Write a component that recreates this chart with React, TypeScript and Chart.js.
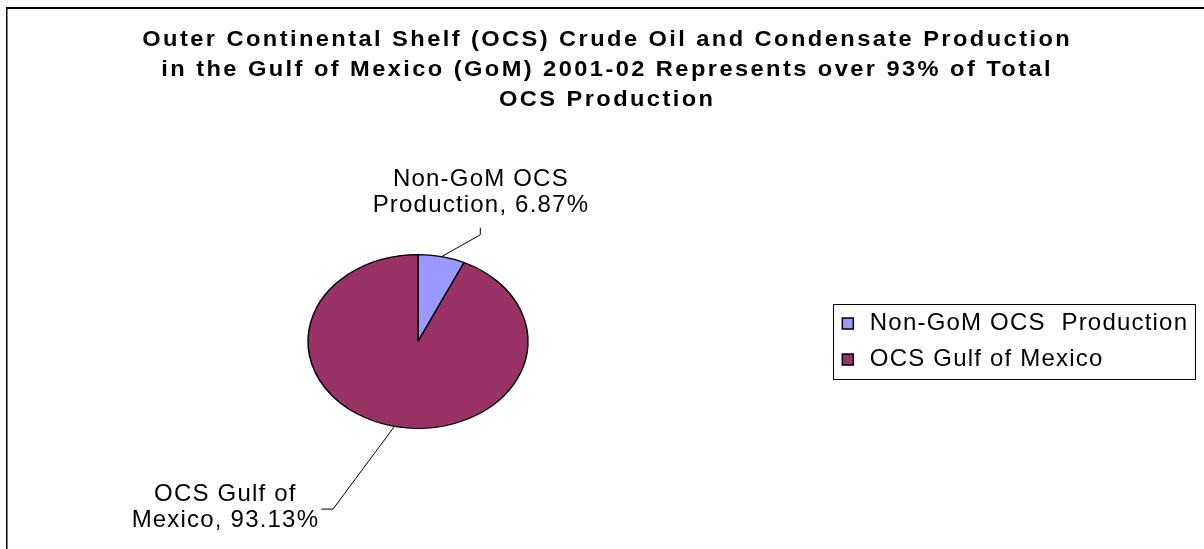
import React, { useEffect, useRef } from 'react';
import { Chart, registerables } from 'chart.js';

Chart.register(...registerables);

// ---- data ----
const titleLines = [
  'Outer Continental Shelf (OCS) Crude Oil and Condensate Production',
  'in the Gulf of Mexico (GoM) 2001-02 Represents over 93% of Total',
  'OCS Production',
];
const categories = ['Non-GoM OCS  Production', 'OCS Gulf of Mexico'];
const categoryLines = [
  ['Non-GoM OCS', 'Production'],
  ['OCS Gulf of', 'Mexico'],
];
const shares = [6.87, 93.13];
const sliceColors = ['#9999FF', '#993366'];

// ---- styling / layout ----
const FONT = '"Liberation Sans", Arial, Helvetica, sans-serif';
const Y_SCALE = 0.79; // pie is drawn as an ellipse like the reference
const TITLE_SX = 1.1; // title glyphs are drawn slightly wide, like the reference
const W = 1198;
const H = 543;

// label placement relative to pie centre (elbow, tick end, text centre x, first baseline)
const labelLayout = [
  { ex: 62.3, ey: -106.7, tx: 62.3, ty: -113.7, cx: 62.3, by: -155.2 },
  { ex: -85, ey: 167.6, tx: -96.7, ty: 167.6, cx: -193.2, by: 159.8 },
];

const spacingPlugin = {
  id: 'spacing',
  afterInit(chart: any) {
    chart.ctx.letterSpacing = '1.2px';
  },
};

const ellipsePlugin = {
  id: 'ellipse',
  beforeDatasetsDraw(chart: any) {
    const arc = chart.getDatasetMeta(0).data[0];
    const ctx = chart.ctx;
    ctx.save();
    ctx.translate(arc.x, arc.y);
    ctx.scale(1, Y_SCALE);
    ctx.translate(-arc.x, -arc.y);
  },
  afterDatasetsDraw(chart: any) {
    chart.ctx.restore();
  },
};

const decorPlugin = {
  id: 'decor',
  afterDraw(chart: any) {
    const ctx = chart.ctx as any;
    // outer border (left + top)
    ctx.save();
    ctx.strokeStyle = '#000';
    ctx.lineWidth = 2;
    ctx.beginPath();
    ctx.moveTo(0, 2);
    ctx.lineTo(chart.width, 2);
    ctx.stroke();
    ctx.lineWidth = 1.5;
    ctx.beginPath();
    ctx.moveTo(0.75, 1);
    ctx.lineTo(0.75, chart.height);
    ctx.stroke();
    ctx.restore();

    // title
    ctx.save();
    ctx.fillStyle = '#000';
    ctx.font = `bold 21.5px ${FONT}`;
    ctx.letterSpacing = '2.2px';
    ctx.textAlign = 'center';
    ctx.textBaseline = 'alphabetic';
    titleLines.forEach((t, i) => {
      ctx.save();
      ctx.translate(chart.width / 2 + 2.2, 39.5 + i * 30.4);
      ctx.scale(TITLE_SX, 1);
      ctx.fillText(t, 0, 0);
      ctx.restore();
    });
    ctx.restore();

    // data labels with leader lines
    const meta = chart.getDatasetMeta(0);
    ctx.save();
    ctx.font = `24px ${FONT}`;
    ctx.letterSpacing = '1.2px';
    ctx.fillStyle = '#000';
    ctx.strokeStyle = '#000';
    ctx.lineWidth = 1;
    ctx.textAlign = 'center';
    ctx.textBaseline = 'alphabetic';
    meta.data.forEach((arc: any, i: number) => {
      const p = arc.getProps(['x', 'y', 'startAngle', 'endAngle', 'outerRadius'], true);
      const mid = (p.startAngle + p.endAngle) / 2;
      const sx = p.x + p.outerRadius * Math.cos(mid);
      const sy = p.y + p.outerRadius * Math.sin(mid) * Y_SCALE;
      const L = labelLayout[i];
      ctx.beginPath();
      ctx.moveTo(sx, sy);
      ctx.lineTo(p.x + L.ex, p.y + L.ey);
      ctx.lineTo(p.x + L.tx, p.y + L.ty);
      ctx.stroke();
      const lines = categoryLines[i].slice();
      lines[lines.length - 1] = `${lines[lines.length - 1]}, ${shares[i].toFixed(2)}%`;
      lines.forEach((ln, j) => {
        ctx.fillText(ln, p.x + L.cx + 0.6, p.y + L.by + j * 26);
      });
    });
    ctx.restore();

    // legend frame
    const lg = chart.legend;
    if (lg && lg.legendHitBoxes && lg.legendHitBoxes.length) {
      const hb = lg.legendHitBoxes;
      const top = hb[0].top - 7.5;
      const bottom = hb[hb.length - 1].top + hb[hb.length - 1].height + 7.5;
      ctx.save();
      ctx.strokeStyle = '#000';
      ctx.lineWidth = 1;
      ctx.strokeRect(
        Math.round(lg.left + 6.8) + 0.5,
        Math.round(top) + 0.5,
        Math.round(lg.right - lg.left - 10),
        Math.round(bottom - top)
      );
      ctx.restore();
    }
  },
};

export default function App() {
  const ref = useRef<HTMLCanvasElement | null>(null);

  useEffect(() => {
    document.documentElement.style.overflow = 'hidden';
    document.body.style.overflow = 'hidden';
    const canvas = ref.current;
    if (!canvas) return;
    const chart = new Chart(canvas, {
      type: 'pie',
      data: {
        labels: categories,
        datasets: [
          {
            data: shares,
            backgroundColor: sliceColors,
            borderColor: '#000',
            borderWidth: 1.5,
            radius: 110,
          } as any,
        ],
      },
      options: {
        responsive: false,
        devicePixelRatio: 1,
        animation: false,
        events: [],
        layout: { padding: { left: 4.2, right: 5.8, top: 128, bottom: 0 } },
        plugins: {
          title: { display: false },
          tooltip: { enabled: false },
          legend: {
            display: true,
            position: 'right',
            align: 'center',
            labels: {
              font: { family: FONT, size: 24 },
              color: '#000',
              usePointStyle: true,
              pointStyle: 'rect',
              boxWidth: 20,
              boxHeight: 11,
              padding: 12,
            },
          },
        },
      } as any,
      plugins: [spacingPlugin, ellipsePlugin, decorPlugin],
    });
    return () => chart.destroy();
  }, []);

  return (
    <div
      style={{
        position: 'absolute',
        left: 6,
        top: 6,
        width: W,
        height: H,
        overflow: 'hidden',
        background: '#fff',
      }}
    >
      <canvas ref={ref} width={W} height={H} style={{ display: 'block', width: `${W}px`, height: `${H}px` }} />
    </div>
  );
}
